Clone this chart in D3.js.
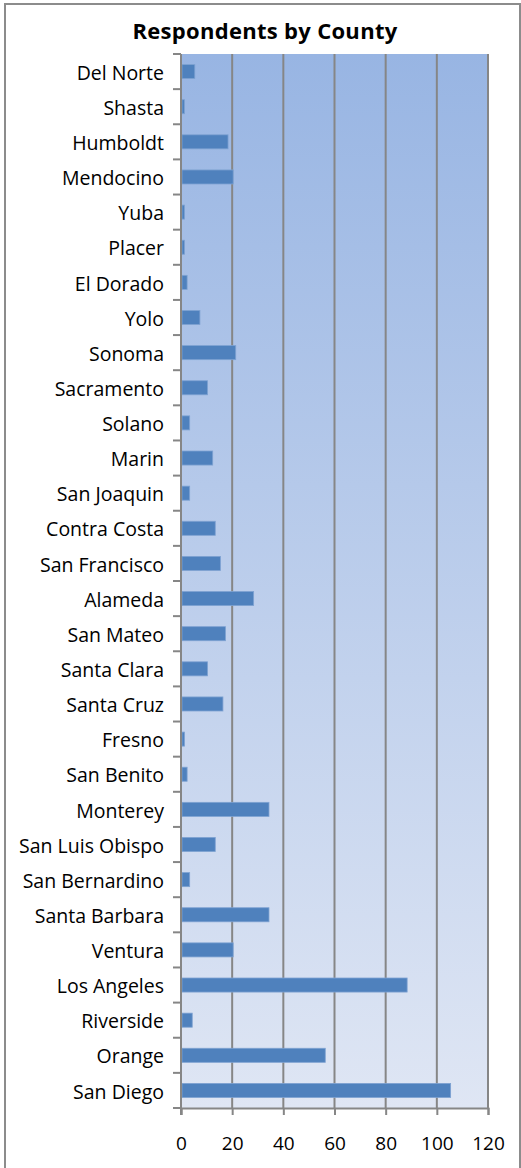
<!DOCTYPE html>
<html>
<head>
<meta charset="utf-8">
<script src="https://cdn.jsdelivr.net/npm/d3@7"></script>
<style>
  body { margin: 0; background: #fff; }
  text { font-family: "Open Sans", Lato, sans-serif; fill: #000; }
</style>
</head>
<body>
<div id="container"></div>
<script>
const counties = ["Del Norte", "Shasta", "Humboldt", "Mendocino", "Yuba", "Placer", "El Dorado", "Yolo",
  "Sonoma", "Sacramento", "Solano", "Marin", "San Joaquin", "Contra Costa", "San Francisco", "Alameda",
  "San Mateo", "Santa Clara", "Santa Cruz", "Fresno", "San Benito", "Monterey", "San Luis Obispo",
  "San Bernardino", "Santa Barbara", "Ventura", "Los Angeles", "Riverside", "Orange", "San Diego"];
const respondents = [5, 1, 18, 20, 1, 1, 2, 7, 21, 10, 3, 12, 3, 13, 15, 28, 17, 10, 16, 1, 2, 34, 13, 3, 34, 20, 88, 4, 56, 105];
const xTicks = [0, 20, 40, 60, 80, 100, 120];
const title = "Respondents by County";

const w = 521;
const h = 1168;
const plotLeft = 181, plotRight = 488, plotTop = 54, plotBottom = 1108;

const svg = d3.select("#container")
  .append("svg")
  .attr("width", w)
  .attr("height", h);

// outer chart border
svg.append("rect")
  .attr("x", 5).attr("y", 4)
  .attr("width", 515).attr("height", h + 20)
  .attr("fill", "#fff")
  .attr("stroke", "#8c8c8c")
  .attr("stroke-width", 2);

const grad = svg.append("defs").append("linearGradient")
  .attr("id", "plotbg")
  .attr("x1", 0).attr("y1", 0).attr("x2", 0).attr("y2", 1);
grad.append("stop").attr("offset", "0%").attr("stop-color", "#98b5e3");
grad.append("stop").attr("offset", "100%").attr("stop-color", "#dfe6f4");

var xScale = d3.scaleLinear()
  .domain([0, 120])
  .range([plotLeft, plotRight]);

var yScale = d3.scaleBand()
  .domain(counties)
  .range([plotTop, plotBottom])
  .paddingInner(0.6)
  .paddingOuter(0.3);

var yEdge = d3.scaleLinear()
  .domain([0, counties.length])
  .range([plotTop, plotBottom]);

svg.append("rect")
  .attr("x", plotLeft).attr("y", plotTop)
  .attr("width", plotRight - plotLeft).attr("height", plotBottom - plotTop)
  .attr("fill", "url(#plotbg)");

// vertical gridlines
svg.append("g")
  .selectAll("line")
  .data(xTicks.slice(1))
  .enter()
  .append("line")
  .attr("x1", (d) => xScale(d)).attr("x2", (d) => xScale(d))
  .attr("y1", plotTop).attr("y2", plotBottom)
  .attr("stroke", "#868686")
  .attr("stroke-width", 2);

// bars
svg.append("g")
  .selectAll("rect")
  .data(counties)
  .enter()
  .append("rect")
  .attr("x", xScale(0) + 1)
  .attr("y", (d) => yScale(d))
  .attr("width", (d, i) => xScale(respondents[i]) - xScale(0))
  .attr("height", yScale.bandwidth())
  .attr("fill", "#4f81bd")
  .attr("stroke", "#7ea2d2")
  .attr("stroke-width", 0.8);

// category axis
const yAxisG = svg.append("g");
yAxisG.append("line")
  .attr("x1", plotLeft).attr("x2", plotLeft)
  .attr("y1", plotTop).attr("y2", plotBottom + 7)
  .attr("stroke", "#868686").attr("stroke-width", 2);
yAxisG.selectAll(".tick")
  .data(d3.range(counties.length + 1))
  .enter()
  .append("line")
  .attr("x1", plotLeft - 8).attr("x2", plotLeft)
  .attr("y1", (d) => yEdge(d)).attr("y2", (d) => yEdge(d))
  .attr("stroke", "#868686").attr("stroke-width", 2);
yAxisG.selectAll("text")
  .data(counties)
  .enter()
  .append("text")
  .attr("x", 164)
  .attr("y", (d) => yScale(d) + yScale.bandwidth() / 2)
  .attr("dy", "0.42em")
  .attr("text-anchor", "end")
  .attr("font-size", 19.5)
  .text((d) => d);

// value axis
const xAxis = d3.axisBottom(xScale)
  .tickValues(xTicks)
  .tickSize(7)
  .tickPadding(22)
  .tickFormat(d3.format("d"));
const xAxisG = svg.append("g")
  .attr("transform", "translate(0," + plotBottom + ")")
  .call(xAxis);
xAxisG.select(".domain").attr("stroke", "#868686").attr("stroke-width", 2);
xAxisG.selectAll(".tick line").attr("stroke", "#868686").attr("stroke-width", 2);
xAxisG.selectAll(".tick text")
  .attr("font-family", "'Open Sans', sans-serif")
  .attr("font-size", 19)
  .attr("fill", "#000");

svg.append("text")
  .attr("x", 265)
  .attr("y", 39)
  .attr("text-anchor", "middle")
  .attr("font-size", 22)
  .attr("font-weight", "bold")
  .attr("letter-spacing", 0.3)
  .text(title);
</script>
</body>
</html>
